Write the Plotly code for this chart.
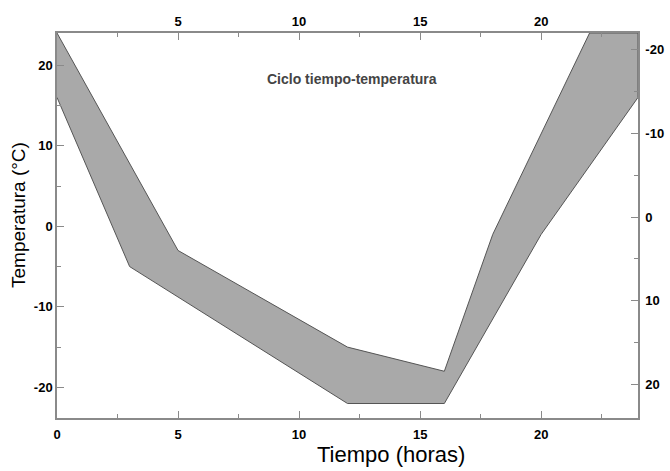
import plotly.graph_objects as go

# Band boundaries (time in hours, temperature in °C)
upper_x = [0, 5, 12, 16, 18, 22, 24]
upper_y = [24, -3, -15, -18, -1, 24, 24]
lower_x = [0, 3, 12, 16, 20, 24]
lower_y = [16, -5, -22, -22, -1, 16]

bottom_ticks = [0, 5, 10, 15, 20]
top_ticks = [5, 10, 15, 20]
left_ticks = [-20, -10, 0, 10, 20]
right_ticks = [-20, -10, 0, 10, 20]

AX = "#8a8a8a"
TICKFONT = dict(family="Liberation Sans, Arial, sans-serif", size=13, color="black", weight="bold")

poly_x = upper_x + lower_x[::-1]
poly_y = upper_y + lower_y[::-1]

fig = go.Figure()
fig.add_trace(go.Scatter(
    x=poly_x, y=poly_y, mode="lines", fill="toself",
    fillcolor="#a9a9a9", line=dict(color="#555555", width=1),
    hoverinfo="skip", showlegend=False))
# invisible trace to activate the top/right axes
fig.add_trace(go.Scatter(x=[0], y=[0], xaxis="x2", yaxis="y2", mode="markers",
                         marker=dict(opacity=0), hoverinfo="skip", showlegend=False))

common = dict(showgrid=False, zeroline=False, showline=True, linecolor=AX, linewidth=1.5,
              ticks="inside", ticklen=7, tickwidth=1.2, tickcolor=AX, tickfont=TICKFONT,
              automargin=False)

def lab(v):
    return [str(t) for t in v]

W, H = 670, 471
l, r, t, b = 57, 32, 33, 53
pw, ph = W - l - r, H - t - b

def px(xp): return (xp - l) / pw
def py(yp): return (H - b - yp) / ph

fig.update_layout(
    width=W, height=H,
    margin=dict(l=l, r=r, t=t, b=b, autoexpand=False),
    paper_bgcolor="white", plot_bgcolor="white",
    xaxis=dict(range=[0, 24], tickvals=bottom_ticks, ticktext=lab(bottom_ticks), ticklabelstandoff=4,
               minor=dict(ticks="inside", ticklen=4, tickcolor=AX, dtick=2.5, tick0=0),
               **common),
    xaxis2=dict(range=[0, 24], overlaying="x", side="top", tickvals=top_ticks, ticktext=lab(top_ticks),
                minor=dict(ticks="inside", ticklen=4, tickcolor=AX, dtick=2.5, tick0=0),
                **common),
    yaxis=dict(range=[-23.8, 24], tickvals=left_ticks, ticktext=lab(left_ticks),
               minor=dict(ticks="inside", ticklen=4, tickcolor=AX, dtick=5, tick0=0),
               **common),
    yaxis2=dict(range=[24, -22], overlaying="y", side="right", tickvals=right_ticks,
                ticktext=lab(right_ticks), ticklabelstandoff=3,
                minor=dict(ticks="inside", ticklen=4, tickcolor=AX, dtick=5, tick0=0),
                **common),
)

fig.layout.annotations = [
    dict(text="Ciclo tiempo-temperatura", x=px(352), y=py(79), xref="paper", yref="paper",
         xanchor="center", yanchor="middle", showarrow=False,
         font=dict(family="Liberation Sans, Arial, sans-serif", size=14, color="#444444", weight="bold")),
    dict(text="Tiempo (horas)", x=px(391), y=py(455), xref="paper", yref="paper",
         xanchor="center", yanchor="middle", showarrow=False,
         font=dict(family="Liberation Sans, Arial, sans-serif", size=22, color="black")),
    dict(text="Temperatura (°C)", x=px(18), y=py(215), xref="paper", yref="paper",
         xanchor="center", yanchor="middle", textangle=-90, showarrow=False,
         font=dict(family="Liberation Sans, Arial, sans-serif", size=19, color="black")),
]

fig.write_html("out.html", config={"displayModeBar": False},
               post_script="document.body.style.margin='0';")
